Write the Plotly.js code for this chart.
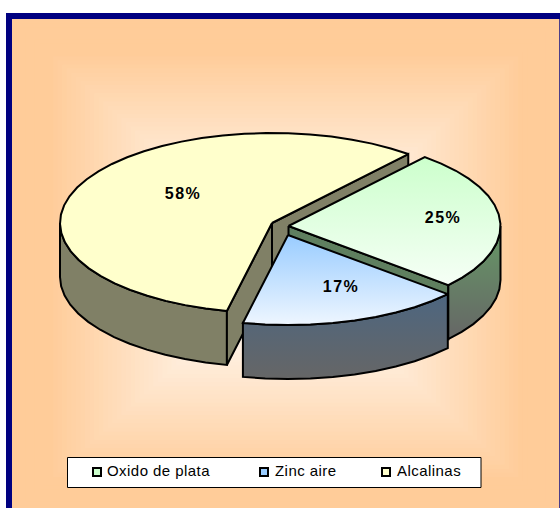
<!DOCTYPE html>
<html>
<head>
<meta charset="utf-8">
<script src="https://cdn.plot.ly/plotly-3.0.1.min.js"></script>
<style>
html,body{margin:0;padding:0;background:#fff;overflow:hidden}
.textpoint text{letter-spacing:0.45px}
.percent .textpoint text{letter-spacing:1.5px}
</style>
</head>
<body>
<div id="chart" style="width:560px;height:508px"></div>
<script>
// data
var categories = ['Oxido de plata', 'Zinc aire', 'Alcalinas'];
var values = [25.3, 17, 57.7];
var percentLabels = ['25%', '17%', '58%'];

// styles and geometry
var startAngle = 40, rx = 212, ry = 90, depth = 54, arcStep = 6;
var apexX = [288.5, 288, 272], apexY = [226, 235, 223];
var labelX = [443, 341, 183], labelY = [219, 288, 195];
var topStops = [['#CCFFCC', '#F6FFF6'], ['#99CCFF', '#EEF6FF'], ['#FFFFCC', '#FFFFCC']];
var wallStops = [['#669966', '#666666'], ['#4D6680', '#666666'], ['#808066', '#808066']];
var cutColors = ['#5F7F5F', '#4D6680', '#808066'];
var legendMarkers = ['#CCFFCC', '#99CCFF', '#FFFFCC'];
var legendX = [97, 264, 386], legendTextX = [107, 275, 397], legendY = 472;

function pt(i, deg, drop) {
  var a = deg * Math.PI / 180;
  return [apexX[i] + rx * Math.sin(a), apexY[i] - ry * Math.cos(a) + (drop || 0)];
}
function arc(i, a0, a1, drop) {
  var out = [], n = Math.max(1, Math.round(Math.abs(a1 - a0) / arcStep));
  for (var k = 0; k <= n; k++) out.push(pt(i, a0 + (a1 - a0) * k / n, drop));
  return out;
}
function poly(points, color, stops, y0, y1) {
  var t = {
    type: 'scatter', mode: 'lines', hoverinfo: 'skip', showlegend: false,
    x: points.map(function (p) { return p[0]; }).concat([points[0][0]]),
    y: points.map(function (p) { return p[1]; }).concat([points[0][1]]),
    fill: 'toself', line: {color: '#000000', width: 2}
  };
  if (stops && stops[0] !== stops[1]) {
    t.fillgradient = {type: 'vertical', start: y0, stop: y1, colorscale: [[0, stops[0]], [1, stops[1]]]};
  } else {
    t.fillcolor = color || stops[0];
  }
  return t;
}

// slice angles, clockwise from north
var angles = [], acc = startAngle, total = values.reduce(function (a, b) { return a + b; }, 0);
values.forEach(function (v) { angles.push([acc, acc + v / total * 360]); acc += v / total * 360; });

function wallFace(i) {
  var a0 = Math.max(angles[i][0], 90), a1 = Math.min(angles[i][1], 270);
  var upper = arc(i, a0, a1, 0), lower = arc(i, a1, a0, depth);
  var ys = upper.concat(lower).map(function (p) { return p[1]; });
  return poly(upper.concat(lower), null, wallStops[i], Math.min.apply(null, ys), Math.max.apply(null, ys));
}
function cutFace(i, deg) {
  var apex = [apexX[i], apexY[i]], e = pt(i, deg, 0);
  return poly([apex, e, [e[0], e[1] + depth], [apex[0], apex[1] + depth]], cutColors[i]);
}
function topFace(i) {
  var pts = [[apexX[i], apexY[i]]].concat(arc(i, angles[i][0], angles[i][1], 0));
  var ys = pts.map(function (p) { return p[1]; });
  return poly(pts, null, topStops[i], Math.min.apply(null, ys), Math.max.apply(null, ys));
}

var traces = [
  wallFace(2), cutFace(2, angles[2][0]), cutFace(2, angles[2][1]), topFace(2),
  cutFace(0, angles[0][1]), wallFace(0), topFace(0),
  wallFace(1), topFace(1),
  {type: 'scatter', mode: 'text', hoverinfo: 'skip', showlegend: false, x: labelX, y: labelY, text: percentLabels,
   textposition: 'middle center', textfont: {family: 'Liberation Sans', size: 16, color: '#000000', weight: 700}},
  {type: 'scatter', mode: 'markers', hoverinfo: 'skip', showlegend: false,
   x: legendX, y: [legendY, legendY, legendY],
   marker: {symbol: 'square', size: 8, color: legendMarkers, line: {color: '#000000', width: 2}}},
  {type: 'scatter', mode: 'text', hoverinfo: 'skip', showlegend: false,
   x: legendTextX, y: [legendY, legendY, legendY], text: categories, textposition: 'middle right',
   textfont: {family: 'Liberation Sans', size: 15, color: '#000000'}}
];

// background: navy frame and rectangular path gradient with a flat outer band
var shapes = [{type: 'rect', xref: 'x', yref: 'y', layer: 'below', x0: 6, y0: 13, x1: 600, y1: 600,
  fillcolor: '#000080', line: {width: 0}}];
var L = 12, R = 559.3, T = 19, B = 514, steps = 60;
var cx = (L + R) / 2, cy = (T + B) / 2;
for (var s = 0; s < steps; s++) {
  var f = s / steps;
  var g = Math.max(0, Math.min(1, (f - 0.13) / 0.75));
  shapes.push({type: 'rect', xref: 'x', yref: 'y', layer: 'below',
    x0: L + (cx - L) * f, x1: R - (R - cx) * f, y0: T + (cy - T) * f, y1: B - (B - cy) * f,
    fillcolor: 'rgb(255,' + Math.round(204 + 51 * g) + ',' + Math.round(153 + 102 * g) + ')', line: {width: 0}});
}
shapes.push({type: 'rect', xref: 'x', yref: 'y', layer: 'below', x0: 67.5, y0: 457.5, x1: 481, y1: 487.5,
  fillcolor: '#FFFFFF', line: {color: '#000000', width: 1}});

var layout = {
  width: 560, height: 508, margin: {l: 0, r: 0, t: 0, b: 0}, showlegend: false,
  paper_bgcolor: '#FFFFFF', plot_bgcolor: 'rgba(0,0,0,0)',
  xaxis: {range: [0, 560], visible: false, fixedrange: true},
  yaxis: {range: [508, 0], visible: false, fixedrange: true},
  shapes: shapes
};
Plotly.newPlot('chart', traces, layout, {displayModeBar: false, staticPlot: true}).then(function () {
  // the percentage trace carries wider tracking, as in the reference
  var groups = document.querySelectorAll('.scatterlayer .trace');
  groups[9].classList.add('percent');
});
</script>
</body>
</html>
